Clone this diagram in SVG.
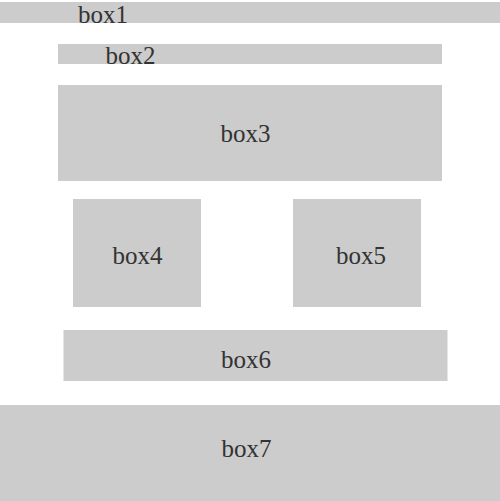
<svg xmlns="http://www.w3.org/2000/svg" width="500" height="501" viewBox="0 0 500 501">
<style>
.box{fill:#cccccc}
.lbl{font-family:"Liberation Serif","DejaVu Serif",serif;font-size:25px;fill:#333333;text-anchor:middle}
</style>
<rect x="0" y="0" width="500" height="501" fill="#ffffff"/>
<g id="box1"><rect class="box" x="0" y="2" width="500" height="21"/><text class="lbl" x="103" y="23">box1</text></g>
<g id="box2"><rect class="box" x="58" y="44" width="384" height="20"/><text class="lbl" x="130.5" y="64">box2</text></g>
<g id="box3"><rect class="box" x="58" y="85" width="384" height="96"/><text class="lbl" x="245.5" y="142">box3</text></g>
<g id="box4"><rect class="box" x="73" y="199" width="128" height="108"/><text class="lbl" x="137.5" y="264">box4</text></g>
<g id="box5"><rect class="box" x="293" y="199" width="128" height="108"/><text class="lbl" x="361" y="264">box5</text></g>
<g id="box6"><rect class="box" x="63.5" y="330" width="384" height="51"/><text class="lbl" x="246" y="368">box6</text></g>
<g id="box7"><rect class="box" x="0" y="405" width="500" height="96"/><text class="lbl" x="246.5" y="457">box7</text></g>
<g id="connectors"></g>
</svg>
